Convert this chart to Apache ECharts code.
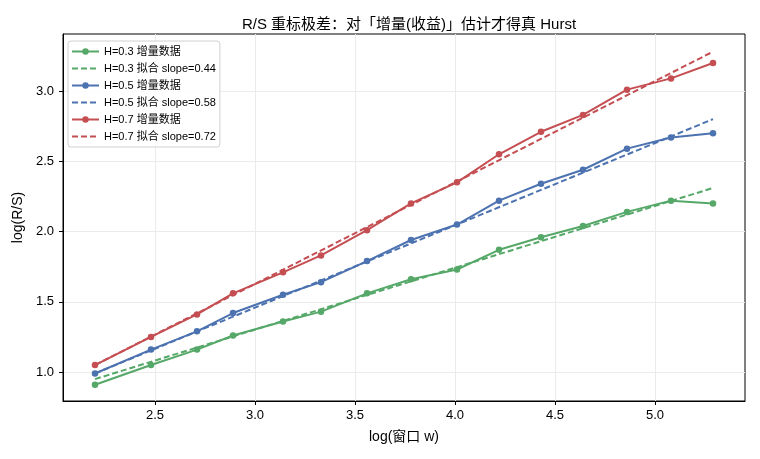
<!DOCTYPE html>
<html>
<head>
<meta charset="utf-8">
<script src="https://cdn.jsdelivr.net/npm/echarts@6/dist/echarts.min.js"></script>
<style>
  html, body { margin: 0; padding: 0; background: #fff; }
  #chart { width: 760px; height: 459px; }
</style>
</head>
<body>
<div id="chart"></div>
<script>
const logW = [2.20, 2.48, 2.71, 2.89, 3.14, 3.33, 3.56, 3.78, 4.01, 4.22, 4.43, 4.64, 4.86, 5.08, 5.29]

const rsH03 = [0.91, 1.05, 1.16, 1.26, 1.36, 1.43, 1.56, 1.66, 1.73, 1.87, 1.96, 2.04, 2.14, 2.22, 2.20]
const rsH05 = [0.99, 1.16, 1.29, 1.42, 1.55, 1.64, 1.79, 1.94, 2.05, 2.22, 2.34, 2.44, 2.59, 2.67, 2.70]
const rsH07 = [1.05, 1.25, 1.41, 1.56, 1.71, 1.83, 2.01, 2.20, 2.35, 2.55, 2.71, 2.83, 3.01, 3.09, 3.20]

// fitted line end points (at first and last window)
const fitH03 = [0.95, 2.31]
const fitH05 = [0.99, 2.80]
const fitH07 = [1.05, 3.28]

const xTicks = [2.5, 3.0, 3.5, 4.0, 4.5, 5.0]
const yTicks = [1.0, 1.5, 2.0, 2.5, 3.0]

const GREEN = '#55a868'
const BLUE = '#4c72b0'
const RED = '#c44e52'
const FONT = '"Liberation Sans", "Noto Sans CJK SC", sans-serif'

const pairs = (xs, ys) => xs.map((x, i) => [x, ys[i]])
const fitPairs = (ys) => [[logW[0], ys[0]], [logW[logW.length - 1], ys[1]]]

const dataSeries = (name, color, values) => ({
    name,
    type: 'line',
    data: pairs(logW, values),
    symbol: 'circle',
    symbolSize: 6.5,
    lineStyle: { color, width: 2 },
    itemStyle: { color },
    z: 3
})

const fitSeries = (name, color, values) => ({
    name,
    type: 'line',
    data: fitPairs(values),
    symbol: 'none',
    lineStyle: { color, width: 2, type: [6, 3] },
    itemStyle: { color },
    z: 4
})

const names = [
    'H=0.3 增量数据', 'H=0.3 拟合 slope=0.44',
    'H=0.5 增量数据', 'H=0.5 拟合 slope=0.58',
    'H=0.7 增量数据', 'H=0.7 拟合 slope=0.72'
]

const chart = echarts.init(document.getElementById('chart'))
chart.setOption({
    animation: false,
    textStyle: { fontFamily: FONT },
    title: {
        text: 'R/S 重标极差：对「增量(收益)」估计才得真 Hurst',
        left: 404,
        textAlign: 'center',
        top: 12,
        textStyle: { fontSize: 15, fontWeight: 'normal', color: '#000', fontFamily: FONT }
    },
    grid: {
        left: 63, right: 15, top: 34, bottom: 58,
        outerBoundsMode: 'none',
        show: true, borderColor: '#000', borderWidth: 1
    },
    legend: {
        orient: 'vertical',
        left: 68,
        top: 41,
        itemWidth: 27,
        itemHeight: 8,
        itemGap: 6,
        padding: [5, 4, 5, 3],
        borderColor: '#d0d0d0',
        borderWidth: 1,
        borderRadius: 3,
        backgroundColor: 'rgba(255,255,255,0.85)',
        textStyle: { fontSize: 11, color: '#000', fontFamily: FONT },
        data: names.map((n, i) => i % 2 === 1 ? { name: n, itemStyle: { opacity: 0 } } : n)
    },
    xAxis: {
        type: 'value',
        min: 2.04,
        max: 5.45,
        name: 'log(窗口 w)',
        nameLocation: 'middle',
        nameGap: 29,
        nameTextStyle: { fontSize: 14, color: '#000' },
        axisLine: { show: true, lineStyle: { color: '#000' } },
        axisTick: { show: true, length: 4, customValues: xTicks, lineStyle: { color: '#000' } },
        axisLabel: { customValues: xTicks, fontSize: 13, color: '#000', margin: 8, formatter: v => v.toFixed(1) },
        splitLine: { show: true, lineStyle: { color: '#ebebeb', width: 1 } }
    },
    yAxis: {
        type: 'value',
        min: 0.794,
        max: 3.406,
        name: 'log(R/S)',
        nameLocation: 'middle',
        nameGap: 32,
        nameTextStyle: { fontSize: 14, color: '#000' },
        axisLine: { show: true, lineStyle: { color: '#000' } },
        axisTick: { show: true, length: 4, customValues: yTicks, lineStyle: { color: '#000' } },
        axisLabel: { customValues: yTicks, fontSize: 13, color: '#000', margin: 9, formatter: v => v.toFixed(1) },
        splitLine: { show: true, lineStyle: { color: '#ebebeb', width: 1 } }
    },
    series: [
        dataSeries(names[0], GREEN, rsH03),
        fitSeries(names[1], GREEN, fitH03),
        dataSeries(names[2], BLUE, rsH05),
        fitSeries(names[3], BLUE, fitH05),
        dataSeries(names[4], RED, rsH07),
        fitSeries(names[5], RED, fitH07)
    ]
})
</script>
</body>
</html>
